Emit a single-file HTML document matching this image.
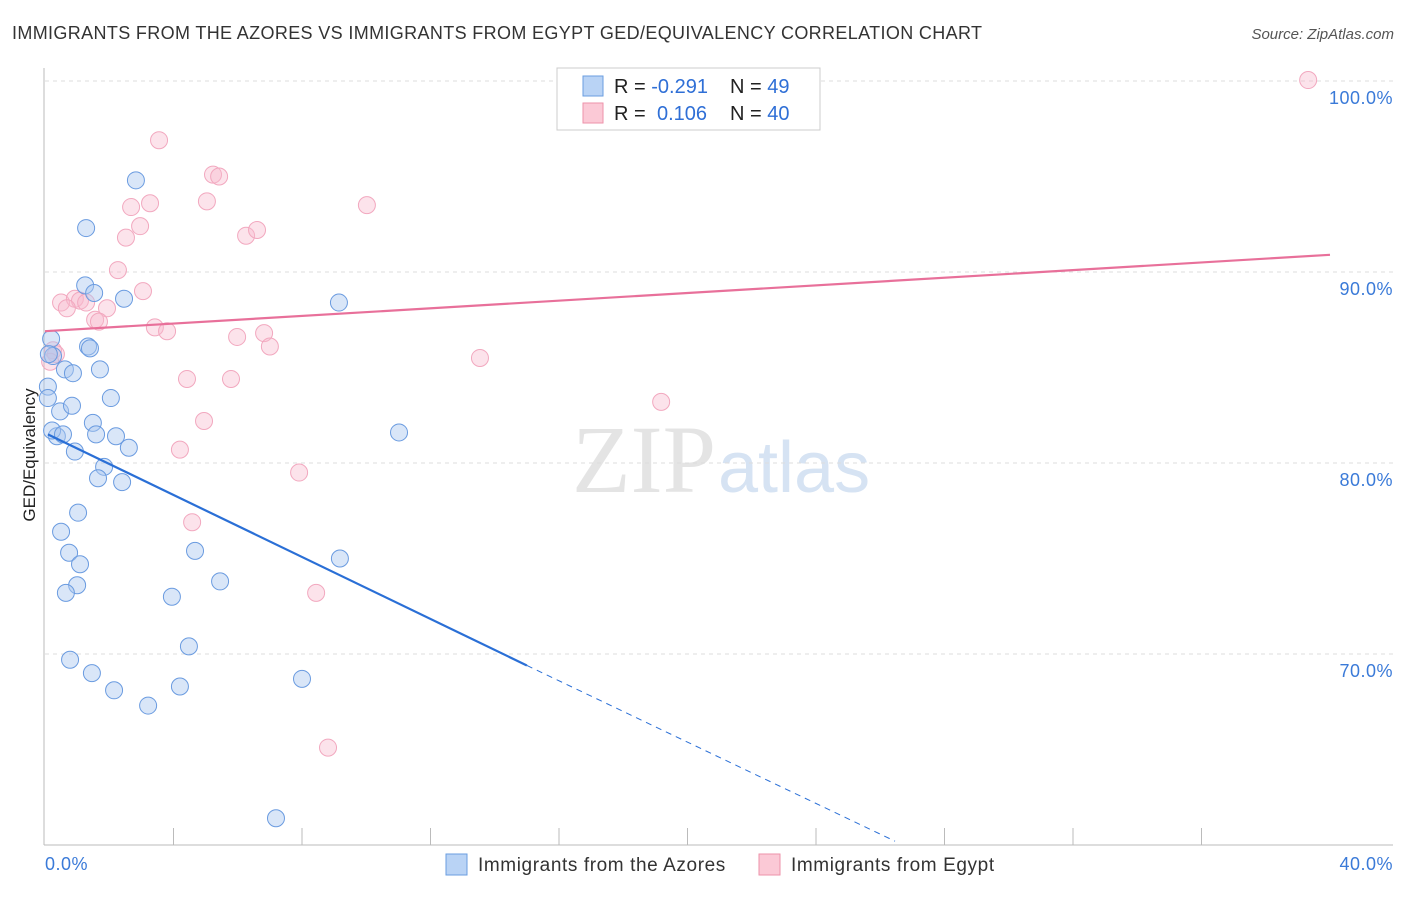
<!DOCTYPE html>
<html><head><meta charset="utf-8"><style>
body{margin:0;background:#fff;font-family:"Liberation Sans",sans-serif}
</style></head><body>
<svg id="c" width="1406" height="892" xmlns="http://www.w3.org/2000/svg">
<text x="12" y="39" font-size="18" fill="#333" textLength="970" lengthAdjust="spacing">IMMIGRANTS FROM THE AZORES VS IMMIGRANTS FROM EGYPT GED/EQUIVALENCY CORRELATION CHART</text>
<text x="1394" y="39" font-size="15" fill="#555" font-style="italic" text-anchor="end">Source: ZipAtlas.com</text>
<text x="716" y="492" font-size="96" fill="#e4e4e4" font-family="Liberation Serif,serif" text-anchor="end">ZIP</text>
<text x="718" y="492" font-size="72" fill="#d6e3f3">atlas</text>
<text transform="translate(35,455) rotate(-90)" font-size="17" fill="#222" text-anchor="middle">GED/Equivalency</text>
<g id="grid"></g><g id="marks"></g>
<g>
<rect x="557" y="68" width="263" height="62" fill="#fff" stroke="#ccc"/>
<rect x="583" y="76" width="20" height="20" fill="#b9d3f5" stroke="#6a9ee0"/>
<rect x="583" y="103" width="20" height="20" fill="#fbc9d6" stroke="#ee92aa"/>
<text x="614" y="93" font-size="20" fill="#222">R = <tspan fill="#2f6fd6">-0.291</tspan><tspan x="730">N = </tspan><tspan fill="#2f6fd6">49</tspan></text>
<text x="614" y="120" font-size="20" fill="#222">R = <tspan x="657" fill="#2f6fd6">0.106</tspan><tspan x="730">N = </tspan><tspan fill="#2f6fd6">40</tspan></text>
</g>
<g>
<rect x="446" y="854" width="21" height="21" fill="#b9d3f5" stroke="#6a9ee0"/>
<text x="478" y="871" font-size="19" fill="#333" letter-spacing="0.6">Immigrants from the Azores</text>
<rect x="759" y="854" width="21" height="21" fill="#fbc9d6" stroke="#ee92aa"/>
<text x="791" y="871" font-size="19" fill="#333" letter-spacing="0.6">Immigrants from Egypt</text>
</g>
</svg>
<script>
const xTickLabels=["0.0%","40.0%"];
const yTicks=[100,90,80,70];
const azoresX=[2.83,1.28,1.25,1.53,2.46,9.15,0.19,1.34,1.40,0.25,0.62,0.87,1.71,0.09,0.09,2.05,0.47,0.84,1.49,1.59,0.37,0.22,0.56,2.21,2.61,0.93,11.02,1.84,1.65,2.40,1.03,0.50,0.75,1.09,1.00,0.65,4.67,9.18,5.45,3.95,4.48,0.78,1.46,2.15,4.20,8.00,3.21,7.19,0.12];
const azoresY=[94.8,92.3,89.3,88.9,88.6,88.4,86.5,86.1,86.0,85.6,84.9,84.7,84.9,84.0,83.4,83.4,82.7,83.0,82.1,81.5,81.4,81.7,81.5,81.4,80.8,80.6,81.6,79.8,79.2,79.0,77.4,76.4,75.3,74.7,73.6,73.2,75.4,75.0,73.8,73.0,70.4,69.7,69.0,68.1,68.3,68.7,67.3,61.4,85.7];
const egyptX=[39.32,3.55,5.23,5.42,5.04,2.68,3.27,10.02,2.96,2.52,6.26,6.60,2.27,3.05,0.50,0.93,1.09,0.68,1.28,1.93,1.56,1.68,3.42,3.80,5.98,6.82,7.00,13.54,4.42,5.79,19.18,4.95,4.20,7.91,4.58,8.44,8.81,0.25,0.34,0.16];
const egyptY=[100.05,96.9,95.1,95.0,93.7,93.4,93.6,93.5,92.4,91.8,91.9,92.2,90.1,89.0,88.4,88.6,88.5,88.1,88.4,88.1,87.5,87.4,87.1,86.9,86.6,86.8,86.1,85.5,84.4,84.4,83.2,82.2,80.7,79.5,76.9,73.2,65.1,85.9,85.7,85.3];
const azoresTrend=[[0.09,81.5],[15.0,69.4],[26.46,60.2]];
const egyptTrend=[[0,86.9],[40,90.9]];
const X=v=>45+v/40*1285, Y=v=>81+(100-v)*19.1;
const NS="http://www.w3.org/2000/svg";
function mk(t,a,p){const e=document.createElementNS(NS,t);for(const k in a)e.setAttribute(k,a[k]);p.appendChild(e);return e;}
const g=document.getElementById('grid'), m=document.getElementById('marks');
yTicks.forEach(t=>{
 const l=mk('line',{x1:45,x2:1393,y1:Y(t),y2:Y(t),stroke:'#ddd','stroke-dasharray':'4,4'},g);
 
 
 const tx=mk('text',{x:1393,y:Y(t)+23,'font-size':18,fill:'#3a7ad8','text-anchor':'end','letter-spacing':0.5},g);tx.textContent=t.toFixed(1)+'%';
 
 
});
mk('line',{x1:44,x2:44,y1:68,y2:845,stroke:'#bbb'},g);
mk('line',{x1:44,x2:1393,y1:845,y2:845,stroke:'#bbb'},g);
for(let i=1;i<=9;i++){const tk=mk('line',{x1:X(i*4),x2:X(i*4),y1:828,y2:845,stroke:'#bbb'},g);
 
 }
const xl0=mk('text',{x:45,y:870,'font-size':18,fill:'#3a7ad8','letter-spacing':0.5},g);xl0.textContent=xTickLabels[0];


const xl1=mk('text',{x:1393,y:870,'font-size':18,fill:'#3a7ad8','text-anchor':'end','letter-spacing':0.5},g);xl1.textContent=xTickLabels[1];


function pts(xs,ys,fill,stroke,name){xs.forEach((x,i)=>{const c=mk('circle',{cx:X(x),cy:Y(ys[i]),r:8.5,fill:fill,stroke:stroke,'stroke-width':1},m);
 
 });}
pts(egyptX,egyptY,'rgba(248,185,205,0.4)','#f2a8bf','egypt-point');
pts(azoresX,azoresY,'rgba(170,200,240,0.45)','#6a9be0','azores-point');
const b1=mk('line',{x1:X(azoresTrend[0][0]),y1:Y(azoresTrend[0][1]),x2:X(azoresTrend[1][0]),y2:Y(azoresTrend[1][1]),stroke:'#2a6fd6','stroke-width':2.2},m);


const b2=mk('line',{x1:X(azoresTrend[1][0]),y1:Y(azoresTrend[1][1]),x2:X(azoresTrend[2][0]),y2:Y(azoresTrend[2][1]),stroke:'#2a6fd6','stroke-width':1,'stroke-dasharray':'6,5'},m);


const p1=mk('line',{x1:X(egyptTrend[0][0]),y1:Y(egyptTrend[0][1]),x2:X(egyptTrend[1][0]),y2:Y(egyptTrend[1][1]),stroke:'#e8709a','stroke-width':2.2},m);


</script>
</body></html>
